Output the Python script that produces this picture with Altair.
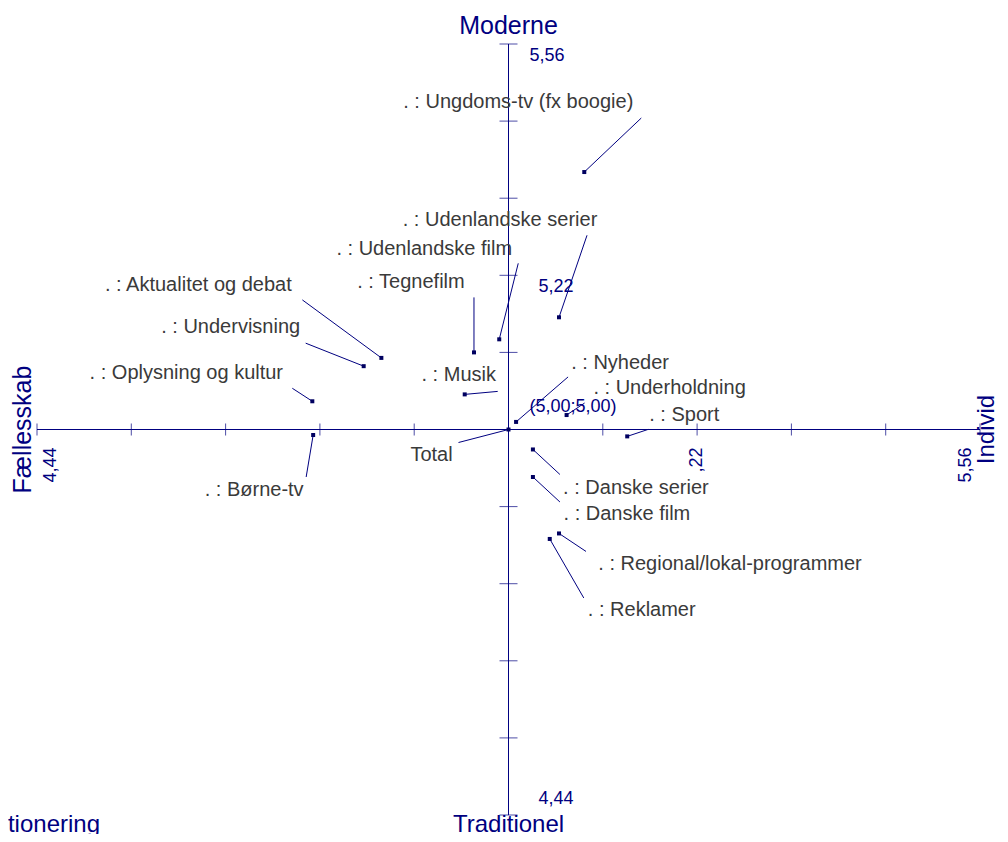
import altair as alt
import pandas as pd

# ---------------- data ----------------
categories = [
    "Total", "Ungdoms-tv (fx boogie)", "Udenlandske serier", "Udenlandske film",
    "Tegnefilm", "Aktualitet og debat", "Undervisning", "Oplysning og kultur",
    "Børne-tv", "Musik", "Nyheder", "Underholdning", "Sport", "Danske serier",
    "Danske film", "Regional/lokal-programmer", "Reklamer",
]
individ = [5.00, 5.090, 5.060, 4.989, 4.959, 4.849, 4.828, 4.767, 4.768,
           4.948, 5.009, 5.069, 5.141, 5.029, 5.029, 5.060, 5.049]
moderne = [5.00, 5.374, 5.163, 5.131, 5.112, 5.104, 5.092, 5.041, 4.992,
           5.051, 5.011, 5.021, 4.990, 4.971, 4.931, 4.849, 4.841]

axis_min, axis_max, axis_center = 4.44, 5.56, 5.00
tick_values = [4.44, 4.552, 4.664, 4.776, 4.888, 5.112, 5.224, 5.336, 5.448, 5.56]

# ---------------- layout (pixel offsets for leader lines / labels) ----------------
W, H = 943, 771
line_end_px = [(-50, 13), (57, -54), (28, -82), (19, -76), (0, -55), (-79, -58),
               (-58, -23), (-20, -13), (-7, 42), (33, -3), (52, -45), (18, -12),
               (21, -7), (27, 25), (27, 25), (27, 18), (34, 59)]
label_px = [(-77, 25), (-66, -70), (-59, -97), (-75, -90), (-63, -70), (-183, -73),
            (-133, -39), (-126, -28), (-59, 55), (-6, -19), (104, -59), (103, -27),
            (57, -21), (103, 39), (94, 37), (171, 31), (92, 71)]

span = axis_max - axis_min
ux = span / W
uy = span / H

df = pd.DataFrame({"cat": categories, "x": individ, "y": moderne})
df["label"] = [c if c == "Total" else ". : " + c for c in categories]
df["ex"] = [x + p[0] * ux for x, p in zip(individ, line_end_px)]
df["ey"] = [y - p[1] * uy for y, p in zip(moderne, line_end_px)]
df["lx"] = [x + p[0] * ux for x, p in zip(individ, label_px)]
df["ly"] = [y - p[1] * uy for y, p in zip(moderne, label_px)]

NAVY = "#000080"
TXT = "#3a3a3a"
FONT = "Liberation Sans"

xs = alt.Scale(domain=[axis_min, axis_max], nice=False, zero=False)
ys = alt.Scale(domain=[axis_min, axis_max], nice=False, zero=False)

def X(f):
    return alt.X(f, type="quantitative", scale=xs, axis=None)

def Y(f):
    return alt.Y(f, type="quantitative", scale=ys, axis=None)

# axes lines
axes_df = pd.DataFrame({
    "x": [axis_min, axis_center], "x2": [axis_max, axis_center],
    "y": [axis_center, axis_min], "y2": [axis_center, axis_max],
})
axes = alt.Chart(axes_df).mark_rule(color=NAVY, strokeWidth=1).encode(
    x=X("x"), x2="x2", y=Y("y"), y2="y2")

tick_df = pd.DataFrame({"t": tick_values, "c": [axis_center] * len(tick_values)})
hticks = alt.Chart(tick_df).mark_tick(orient="vertical", size=12, thickness=1, color=NAVY).encode(
    x=X("t"), y=Y("c"))
vticks = alt.Chart(tick_df).mark_tick(orient="horizontal", size=18, thickness=1, color=NAVY).encode(
    x=X("c"), y=Y("t"))

leaders = alt.Chart(df).mark_rule(color=NAVY, strokeWidth=1).encode(
    x=X("x"), y=Y("y"), x2="ex", y2="ey")
points = alt.Chart(df).mark_square(size=16, color="#000060", opacity=1).encode(
    x=X("x"), y=Y("y"))
labels = alt.Chart(df).mark_text(font=FONT, fontSize=20, color=TXT, align="center",
                                 baseline="middle").encode(
    x=X("lx"), y=Y("ly"), text="label")

def note(text, xv, yv, sx, sy, size=18, angle=0, align="left", baseline="middle",
         color=NAVY):
    # sx, sy: screen offsets in pixels; converted to the rotated text frame
    if angle == 270:
        dx, dy = -sy, sx
    else:
        dx, dy = sx, sy
    d = pd.DataFrame({"x": [xv], "y": [yv], "t": [text]})
    kw = dict(font=FONT, fontSize=size, color=color, align=align, baseline=baseline,
              dx=dx, dy=dy)
    if angle:
        kw["angle"] = angle
    return alt.Chart(d).mark_text(**kw).encode(x=X("x"), y=Y("y"), text="t")

notes = [
    note("5,56", axis_center, axis_max, 21, 12),
    note("5,22", axis_center, 5.224, 30, 12),
    note("4,44", axis_center, axis_min, 30, -16),
    note("(5,00;5,00)", axis_center, axis_center, 21, -23),
    note("4,44", axis_min, axis_center, 14, 18, angle=270, align="right"),
    note(",22", 5.224, axis_center, 0, 18, angle=270, align="right"),
    note("5,56", axis_max, axis_center, -14, 18, angle=270, align="right"),
    note("Moderne", axis_center, axis_max, 0, -18, size=25, align="center"),
    note("Traditionel", axis_center, axis_min, 0, 17, size=24, align="center",
         baseline="alphabetic"),
    note("Fællesskab", axis_min, axis_center, -14, 0, size=25, angle=270, align="center"),
    note("Individ", axis_max, axis_center, 7, 0, size=24, angle=270, align="center"),
    note("Positionering", axis_min, axis_min, 63, 17, size=24, align="right",
         baseline="alphabetic"),
]

chart = alt.layer(axes, hticks, vticks, leaders, points, labels, *notes).properties(
    width=W, height=H,
    autosize=alt.AutoSizeParams(type="none"),
    padding={"left": 29, "top": 36, "right": 20, "bottom": 19},
).configure(background="white").configure_view(stroke=None)

chart.save("out.html", embed_options={"renderer": "svg", "actions": False})
